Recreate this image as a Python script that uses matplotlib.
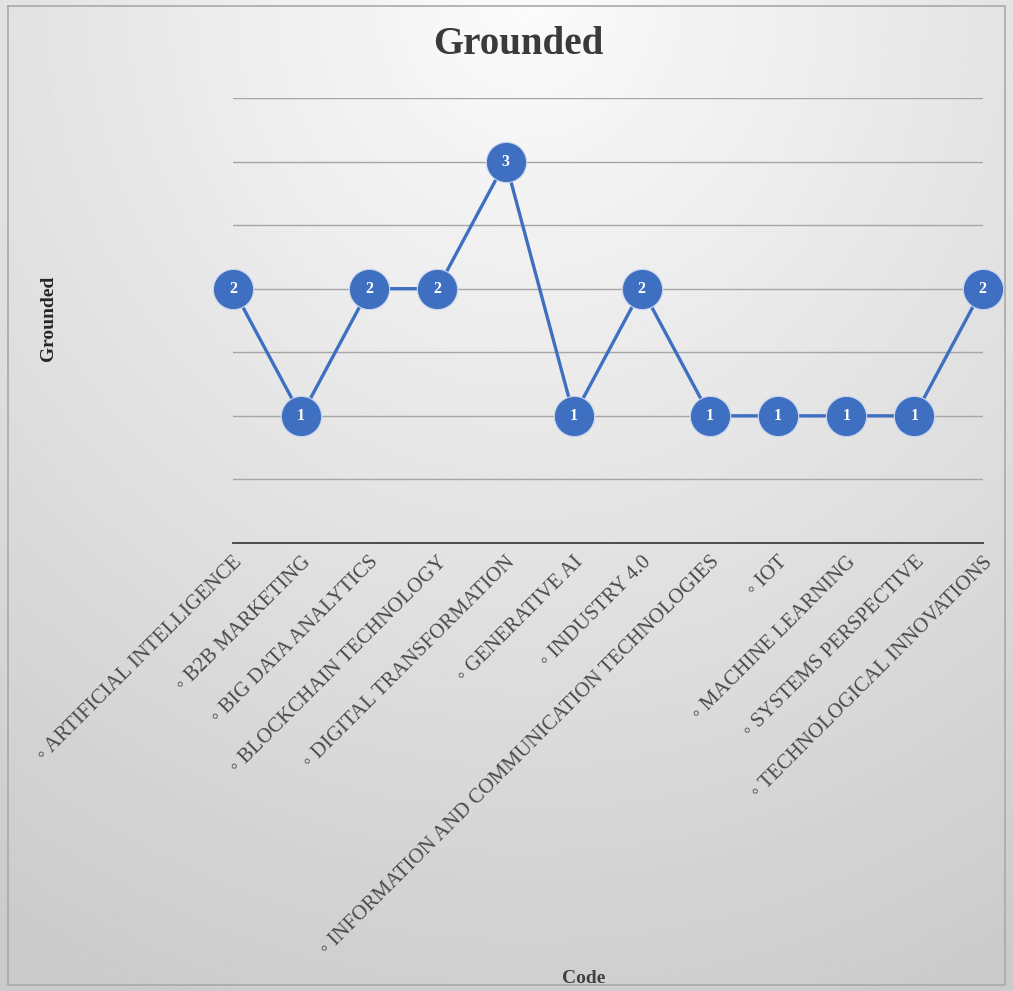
"""Grounded counts per code - Excel-style line chart."""
import numpy as np
import matplotlib.pyplot as plt

codes = [
    "ARTIFICIAL INTELLIGENCE", "B2B MARKETING", "BIG DATA ANALYTICS",
    "BLOCKCHAIN TECHNOLOGY", "DIGITAL TRANSFORMATION", "GENERATIVE AI",
    "INDUSTRY 4.0", "INFORMATION AND COMMUNICATION TECHNOLOGIES", "IOT",
    "MACHINE LEARNING", "SYSTEMS PERSPECTIVE", "TECHNOLOGICAL INNOVATIONS",
]
grounded = [2, 1, 2, 2, 3, 1, 2, 1, 1, 1, 1, 2]

serif = ["Liberation Serif", "DejaVu Serif"]
blue = "#3f6fc1"

fig = plt.figure(figsize=(10.13, 9.91), dpi=100)

# radial grey background, lighter towards the top centre
bg = fig.add_axes([0, 0, 1, 1], zorder=-10)
yy, xx = np.mgrid[0:1:400j, 0:1:400j]
d = np.sqrt(((xx - 0.52) * 1.1) ** 2 + (yy * 1.0) ** 2)
shade = 0.985 - 0.19 * np.clip(d, 0, 1.1) / 1.1
bg.imshow(shade, cmap="gray", vmin=0, vmax=1, extent=[0, 1, 1, 0], aspect="auto")
bg.set_xlim(0, 1)
bg.set_ylim(1, 0)
bg.plot([0.008, 0.992, 0.992, 0.008, 0.008], [0.006, 0.006, 0.994, 0.994, 0.006],
        color="#a9a9a9", lw=1.2)
bg.axis("off")

ax = fig.add_axes([0.230, 0.4521, 0.740, 0.449])
ax.set_facecolor("none")
x = np.arange(len(codes))
ax.plot(x, grounded, color=blue, lw=2.4, zorder=3, clip_on=False)
ax.plot(x, grounded, "o", ms=29, color=blue, mec="#c9d6ee", mew=0.8,
        zorder=4, clip_on=False)
for xi, v in zip(x, grounded):
    ax.text(xi, v, str(v), ha="center", va="center", color="white",
            fontsize=11.5, fontweight="bold", family=serif, zorder=5)

ax.set_xlim(0, len(codes) - 1)
ax.set_ylim(0, 3.5)
ax.set_yticks(np.arange(0.5, 3.51, 0.5))
ax.yaxis.grid(True, color="#a6a6a6", lw=1)
ax.set_yticklabels([])
ax.tick_params(axis="y", length=0)
ax.tick_params(axis="x", length=0, pad=7)
for s in ["top", "right", "left"]:
    ax.spines[s].set_visible(False)
ax.spines["bottom"].set_color("#404040")
ax.spines["bottom"].set_linewidth(1.3)

ax.set_xticks(x)
ax.set_xticklabels(["\u25e6 " + c for c in codes], rotation=45, ha="right",
                   rotation_mode="anchor", fontsize=15, color="#4a4a4a",
                   family=serif + ["DejaVu Sans"])

fig.text(0.512, 0.955, "Grounded", ha="center", va="center", fontsize=28,
         fontweight="bold", family=serif, color="#3a3a3a")
fig.text(0.048, 0.679, "Grounded", ha="center", va="center", rotation=90,
         fontsize=14, fontweight="bold", family=serif, color="#262626")
fig.text(0.576, 0.013, "Code", ha="center", va="center",
         fontsize=14, fontweight="bold", family=serif, color="#404040")

fig.savefig("out.png", dpi=100)
